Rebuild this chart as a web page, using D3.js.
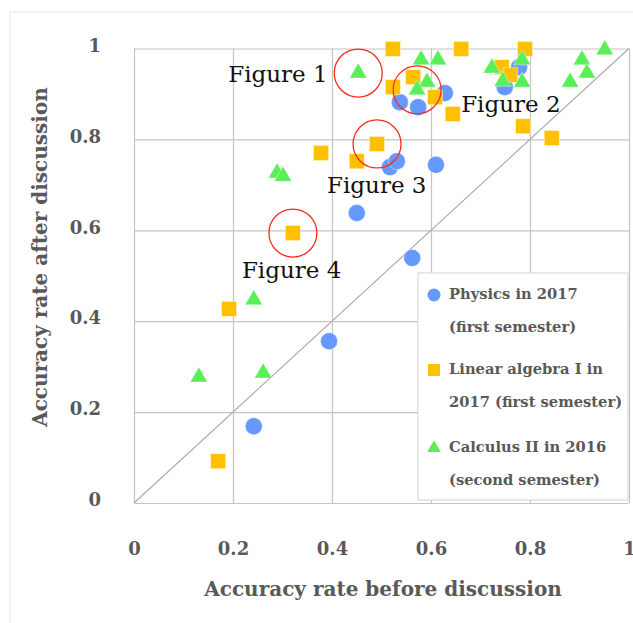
<!DOCTYPE html>
<html>
<head>
<meta charset="utf-8">
<script src="https://cdn.jsdelivr.net/npm/d3@7"></script>
<style>
  body { margin: 0; background: #fff; }
  svg { display: block; }
</style>
</head>
<body>
<script>
// before / after discussion accuracy
var physicsX = [0.242, 0.394, 0.562, 0.45, 0.61, 0.517, 0.531, 0.537, 0.574, 0.628, 0.778, 0.749];
var physicsY = [0.169, 0.356, 0.539, 0.638, 0.744, 0.739, 0.752, 0.882, 0.871, 0.902, 0.959, 0.915];

var linearX = [0.17, 0.192, 0.321, 0.378, 0.45, 0.491, 0.523, 0.661, 0.79, 0.523, 0.564, 0.608, 0.644, 0.743, 0.76, 0.786, 0.844];
var linearY = [0.092, 0.427, 0.594, 0.77, 0.752, 0.79, 0.999, 0.999, 0.999, 0.915, 0.937, 0.893, 0.856, 0.959, 0.942, 0.829, 0.803];

var calculusX = [0.131, 0.261, 0.242, 0.289, 0.301, 0.453, 0.58, 0.614, 0.592, 0.572, 0.723, 0.745, 0.784, 0.784, 0.881, 0.905, 0.915, 0.951];
var calculusY = [0.277, 0.286, 0.447, 0.726, 0.719, 0.946, 0.975, 0.975, 0.926, 0.909, 0.957, 0.928, 0.975, 0.926, 0.926, 0.975, 0.946, 0.997];

var tickValues = [0, 0.2, 0.4, 0.6, 0.8, 1];
var legendLines = [
  ["Physics in 2017", "(first semester)"],
  ["Linear algebra I in", "2017 (first semester)"],
  ["Calculus II in 2016", "(second semester)"]
];
// circled points and their labels
var figureNames = ["Figure 1", "Figure 2", "Figure 3", "Figure 4"];
var figureX = [0.453, 0.572, 0.491, 0.321];
var figureY = [0.946, 0.909, 0.79, 0.594];

var W = 633, H = 623;
var plotL = 134, plotR = 629, plotT = 48.5, plotB = 503;

var svg = d3.select("body").append("svg")
  .attr("width", W)
  .attr("height", H);

// faint page frame
svg.append("rect")
  .attr("x", 10).attr("y", 12)
  .attr("width", W + 20).attr("height", H + 20)
  .attr("fill", "none")
  .attr("stroke", "#e4e4e4");

var x = d3.scaleLinear().domain([0, 1]).range([plotL, plotR]);
var y = d3.scaleLinear().domain([0, 1]).range([plotB, plotT]);

var labelFont = "'DejaVu Serif', serif";
var grey = "#595959";
var fmt = function (d) { return String(+d.toFixed(1)); };

// grid + tick labels
var gx = svg.append("g")
  .attr("transform", "translate(0," + plotB + ")")
  .call(d3.axisBottom(x).tickValues(tickValues).tickSize(-(plotB - plotT)).tickPadding(52).tickFormat(fmt));
var gy = svg.append("g")
  .attr("transform", "translate(" + plotL + ",0)")
  .call(d3.axisLeft(y).tickValues(tickValues).tickSize(-(plotR - plotL)).tickPadding(33).tickFormat(fmt));

[gx, gy].forEach(function (g) {
  g.select(".domain").remove();
  g.selectAll(".tick line").attr("stroke", "#c4c4c4").attr("stroke-width", 1.2);
  g.selectAll(".tick text")
    .attr("fill", grey)
    .style("font-family", labelFont)
    .style("font-weight", "bold")
    .style("font-size", "18px");
});
gx.selectAll(".tick text").attr("dy", "0");
gy.selectAll(".tick text").attr("dy", "0.15em");

// diagonal y = x
svg.append("line")
  .attr("x1", x(0)).attr("y1", y(0))
  .attr("x2", x(1)).attr("y2", y(1))
  .attr("stroke", "#a8a8a8")
  .attr("stroke-width", 1.1);

// axis titles
svg.append("text")
  .attr("x", 383).attr("y", 596)
  .attr("text-anchor", "middle")
  .attr("fill", grey)
  .style("font-family", labelFont)
  .style("font-weight", "bold")
  .style("font-size", "20px")
  .text("Accuracy rate before discussion");

svg.append("text")
  .attr("transform", "translate(47,257) rotate(-90)")
  .attr("text-anchor", "middle")
  .attr("fill", grey)
  .style("font-family", labelFont)
  .style("font-weight", "bold")
  .style("font-size", "20px")
  .text("Accuracy rate after discussion");

var blue = "#6699ff", orange = "#ffc000", green = "#58ef58";
var circleSym = d3.symbol().type(d3.symbolCircle).size(Math.PI * 8.5 * 8.5);
var squareSym = d3.symbol().type(d3.symbolSquare).size(15 * 15);
var triSym = d3.symbol().type(d3.symbolTriangle).size(130);

function drawSeries(xs, ys, sym, color) {
  svg.append("g").selectAll("path")
    .data(xs.map(function (v, i) { return [v, ys[i]]; }))
    .join("path")
    .attr("d", sym)
    .attr("transform", function (d) { return "translate(" + x(d[0]) + "," + y(d[1]) + ")"; })
    .attr("fill", color)
    .attr("stroke", "#fff")
    .attr("stroke-width", 0.4);
}
drawSeries(physicsX, physicsY, circleSym, blue);
drawSeries(linearX, linearY, squareSym, orange);
drawSeries(calculusX, calculusY, triSym, green);

// red circles + figure labels
svg.append("g").selectAll("circle")
  .data(figureX)
  .join("circle")
  .attr("cx", function (d) { return x(d); })
  .attr("cy", function (d, i) { return y(figureY[i]); })
  .attr("r", 24)
  .attr("fill", "none")
  .attr("stroke", "#ff2a1a")
  .attr("stroke-width", 1.3);

var labelDX = [-130, 44, -50, -51];
var labelDY = [9, 22, 49, 45];
svg.append("g").selectAll("text")
  .data(figureNames)
  .join("text")
  .attr("x", function (d, i) { return x(figureX[i]) + labelDX[i]; })
  .attr("y", function (d, i) { return y(figureY[i]) + labelDY[i]; })
  .attr("fill", "#111")
  .style("font-family", labelFont)
  .style("font-size", "23px")
  .text(function (d) { return d; });

// legend
var lg = svg.append("g").attr("transform", "translate(418,273)");
lg.append("rect")
  .attr("width", 210).attr("height", 227)
  .attr("fill", "#fff")
  .attr("stroke", "#d4d4d4");

var legendSyms = [
  d3.symbol().type(d3.symbolCircle).size(Math.PI * 6.5 * 6.5),
  d3.symbol().type(d3.symbolSquare).size(12 * 12),
  d3.symbol().type(d3.symbolTriangle).size(80)
];
var legendColors = [blue, orange, green];
var legendRowY = [22, 97, 175];

legendLines.forEach(function (lines, i) {
  lg.append("path")
    .attr("d", legendSyms[i])
    .attr("transform", "translate(16," + legendRowY[i] + ")")
    .attr("fill", legendColors[i]);
  lines.forEach(function (t, j) {
    lg.append("text")
      .attr("x", 31)
      .attr("y", legendRowY[i] + 4 + j * 33)
      .attr("fill", grey)
      .style("font-family", labelFont)
      .style("font-weight", "bold")
      .style("font-size", "14.7px")
      .text(t);
  });
});
</script>
</body>
</html>
